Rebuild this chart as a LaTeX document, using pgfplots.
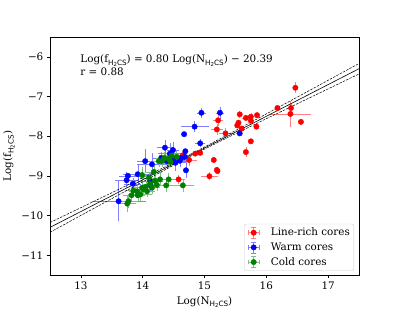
\documentclass[border=0pt]{standalone}
\usepackage{fontspec}
\setmainfont{DejaVu Serif}
\setsansfont{DejaVu Sans}
\usepackage{pgfplots}
\usepackage{pgfplotstable}
\pgfplotsset{compat=1.18}
\newcommand{\fs}{\fontsize{10.4}{12}\selectfont}
\newcommand{\hcs}{\raisebox{-0.45ex}{\fontsize{7.3}{7.3}\sffamily H\raisebox{-0.25ex}{\fontsize{5.4}{5.4}\selectfont 2}CS}}

\pgfplotstableread{
x y ex ey
16.47 -6.78 0 0.08
16.18 -7.29 0 0
16.40 -7.29 0 0.04
16.39 -7.44 0.30 0.28
16.56 -7.64 0 0
15.57 -7.45 0 0.04
15.85 -7.47 0 0
15.75 -7.51 0 0.03
15.67 -7.54 0.03 0
15.75 -7.61 0 0
15.55 -7.66 0 0
15.53 -7.73 0 0
15.84 -7.76 0 0
15.60 -7.81 0 0
15.34 -7.93 0.07 0.08
15.22 -7.60 0.05 0.09
15.20 -7.83 0.06 0.09
15.75 -8.13 0 0
15.67 -8.40 0 0.08
14.85 -8.44 0 0
14.93 -8.42 0 0
15.15 -8.60 0 0
15.20 -8.85 0 0
15.21 -8.88 0 0
15.08 -9.01 0.10 0.05
14.58 -9.09 0.07 0.06
14.75 -8.60 0.10 0.10
14.65 -8.48 0 0.06
}\redtab

\pgfplotstableread{
x y ex ey
14.95 -7.41 0.04 0.07
15.25 -7.41 0.03 0.09
14.84 -7.76 0.19 0.08
14.67 -7.95 0 0
14.93 -8.18 0.05 0.05
15.57 -7.93 0 0
14.36 -8.29 0.10 0.15
14.49 -8.35 0.06 0.15
14.69 -8.38 0 0
14.68 -8.52 0.05 0.05
14.70 -8.86 0 0.15
14.44 -8.44 0.15 0.20
14.50 -8.57 0.10 0.10
14.53 -8.67 0.15 0.15
14.39 -8.63 0.20 0.12
14.15 -8.71 0.20 0.22
14.04 -8.63 0.10 0.25
13.92 -8.96 0.20 0.20
13.76 -9.00 0.10 0
13.74 -9.11 0.15 0.15
13.84 -9.20 0.10 0.10
14.12 -9.13 0.15 0.10
14.12 -9.23 0.10 0.10
13.61 -9.64 0.40 0.45
14.60 -8.62 0.10 0.10
14.62 -8.55 0 0
14.30 -8.55 0.10 0.10
}\bluetab

\pgfplotstableread{
x y ex ey
14.26 -8.63 0.10 0.10
14.47 -8.49 0.10 0.10
14.31 -8.63 0.08 0.08
14.42 -8.57 0.10 0.10
14.55 -8.52 0.08 0.08
14.20 -9.13 0.10 0.10
13.99 -9.30 0.12 0.12
14.05 -9.28 0.10 0.10
13.96 -9.47 0.15 0.10
13.77 -9.64 0.12 0.12
13.75 -9.70 0.10 0.15
13.82 -9.49 0.10 0.10
14.38 -9.24 0.20 0.10
14.28 -9.09 0.10 0.10
14.42 -9.09 0.10 0.10
14.65 -9.24 0.15 0.10
14.12 -9.20 0.10 0.10
13.91 -9.39 0.10 0.10
14.07 -9.39 0.10 0.10
13.99 -8.98 0.10 0.15
13.85 -9.37 0.10 0.10
13.92 -9.49 0.08 0.08
14.01 -9.34 0.08 0.08
14.23 -9.23 0.10 0.10
14.10 -9.05 0.10 0.10
14.18 -8.90 0.10 0.10
14.35 -8.55 0.10 0.10
14.15 -9.30 0.10 0.10
14.45 -8.65 0.08 0.08
}\greentab

\definecolor{mplgreen}{HTML}{008000}

\pgfplotsset{
  ebstyle/.style={
    only marks, mark=*, mark size=2.7bp, color=#1, mark options={fill=#1, draw=#1},
    error bars/.cd, x dir=both, x explicit, y dir=both, y explicit,
    error bar style={#1!50, line width=0.5bp},
    error mark options={#1!50, mark size=2.2bp, line width=0.5bp},
    /pgfplots/.cd,
  },
  ebleg/.style={
    legend image code/.code={
      \draw[#1!50, line width=0.5bp] (7bp,-5.5bp)--(7bp,5.5bp) (1.5bp,0)--(12.5bp,0)
        (4.8bp,-5.5bp)--(9.2bp,-5.5bp) (4.8bp,5.5bp)--(9.2bp,5.5bp) (1.5bp,-2.2bp)--(1.5bp,2.2bp) (12.5bp,-2.2bp)--(12.5bp,2.2bp);
      \fill[#1] (7bp,0) circle (2.7bp);
      \path (0,0) (22bp,0);
    }
  }
}

\begin{document}
\begin{tikzpicture}
\begin{axis}[
  scale only axis, width=309bp, height=238bp,
  xmin=12.5, xmax=17.5, ymin=-11.5, ymax=-5.5,
  xtick={13,14,15,16,17}, xticklabels={13,14,15,16,17},
  ytick={-11,-10,-9,-8,-7,-6}, yticklabels={−11,−10,−9,−8,−7,−6},
  tick align=outside, tick pos=left, major tick length=3.2bp,
  every tick/.style={black, line width=0.5bp},
  axis line style={line width=0.6bp},
  tick label style={font=\fs},
  label style={font=\fs},
  xlabel={Log(N\hcs)}, ylabel={Log(f\hcs)},
  legend cell align=left,
  legend style={at={(0.984,0.017)}, anchor=south east, font=\fs,
    draw=black!20, rounded corners=2bp, row sep=1.5bp, inner sep=2bp},
]
\addplot[ebleg=red, ebstyle=red] table[x=x, y=y, x error=ex, y error=ey]{\redtab};
\addlegendentry{Line-rich cores}
\addplot[ebleg=blue, ebstyle=blue] table[x=x, y=y, x error=ex, y error=ey]{\bluetab};
\addlegendentry{Warm cores}
\addplot[ebleg=mplgreen, ebstyle=mplgreen] table[x=x, y=y, x error=ex, y error=ey]{\greentab};
\addlegendentry{Cold cores}

\addplot[black, line width=0.6bp, forget plot] coordinates {(12.5,-10.3) (17.5,-6.3)};
\addplot[black, line width=0.5bp, dash pattern=on 2.5bp off 1.2bp, forget plot] coordinates {
(12.5,-10.177) (13.0,-9.802) (13.5,-9.426) (14.0,-9.049) (14.5,-8.668) (14.9,-8.355)
(15.5,-7.861) (16.0,-7.440) (16.5,-7.016) (17.0,-6.592) (17.5,-6.168)};
\addplot[black, line width=0.5bp, dash pattern=on 2.5bp off 1.2bp, forget plot] coordinates {
(12.5,-10.423) (13.0,-9.998) (13.5,-9.574) (14.0,-9.152) (14.5,-8.732) (14.9,-8.405)
(15.5,-7.939) (16.0,-7.560) (16.5,-7.184) (17.0,-6.808) (17.5,-6.432)};

\node[anchor=west, font=\fs, inner sep=0pt] at (axis cs:12.99,-6.09) {Log(f\hcs) = 0.80 Log(N\hcs) − 20.39};
\node[anchor=west, font=\fs, inner sep=0pt] at (axis cs:12.99,-6.38) {r = 0.88};
\end{axis}
\pgfresetboundingbox
\path ([shift={(-50bp,-35bp)}]current axis.south west) rectangle ([shift={(40bp,37bp)}]current axis.north east);
\end{tikzpicture}
\end{document}
